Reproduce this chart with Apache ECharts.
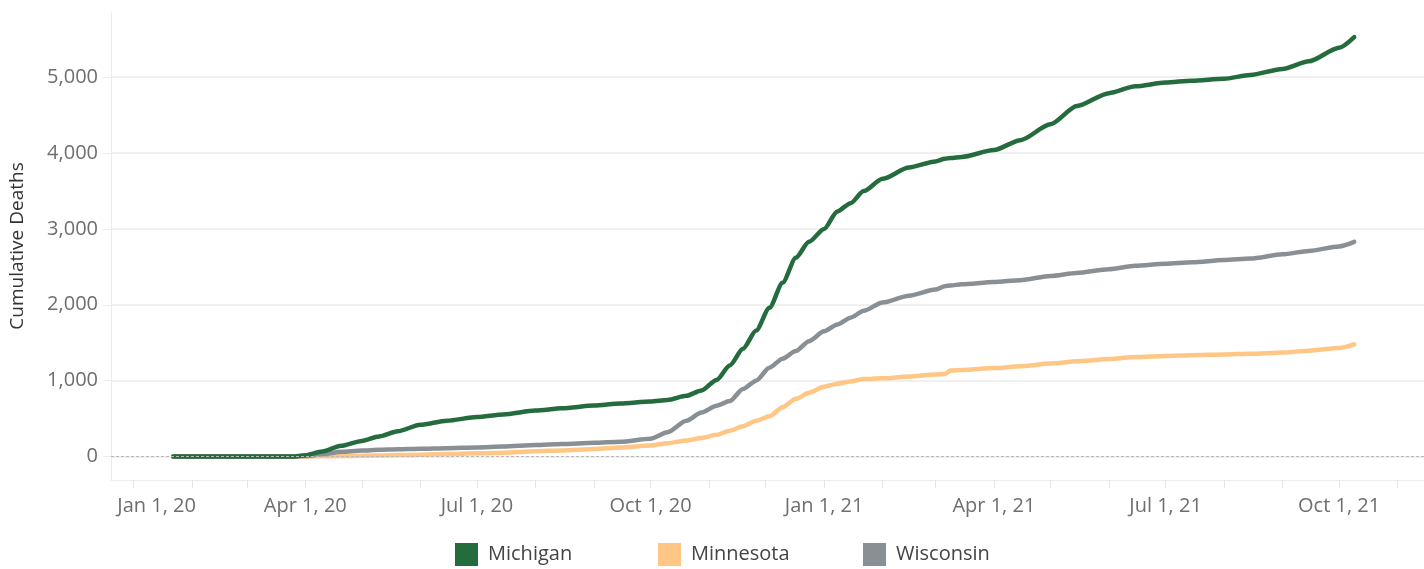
<!DOCTYPE html>
<html>
<head>
<meta charset="utf-8">
<script src="https://cdn.jsdelivr.net/npm/echarts@6/dist/echarts.min.js"></script>
<style>
  html, body { margin: 0; padding: 0; background: #fff; }
  #main { width: 1424px; height: 569px; }
</style>
</head>
<body>
<div id="main"></div>
<script>
// dates
var dates = [
  '2020-01-22', '2020-03-15', '2020-03-25', '2020-04-01', '2020-04-10', '2020-04-20',
  '2020-05-01', '2020-05-10', '2020-05-20', '2020-06-01', '2020-06-15', '2020-07-01',
  '2020-07-15', '2020-08-01', '2020-08-15', '2020-09-01', '2020-09-15', '2020-10-01',
  '2020-10-10', '2020-10-20', '2020-10-28', '2020-11-05', '2020-11-12', '2020-11-19',
  '2020-11-26', '2020-12-03', '2020-12-10', '2020-12-17', '2020-12-24', '2021-01-01',
  '2021-01-08', '2021-01-15', '2021-01-22', '2021-02-01', '2021-02-15', '2021-03-01',
  '2021-03-06', '2021-03-09', '2021-03-15', '2021-04-01', '2021-04-15', '2021-05-01',
  '2021-05-15', '2021-06-01', '2021-06-15', '2021-07-01', '2021-07-15', '2021-08-01',
  '2021-08-15', '2021-09-01', '2021-09-15', '2021-10-01', '2021-10-09'
];

var michigan = [
  0, 0, 0, 15, 65, 140,
  205, 263, 333, 418, 472, 520,
  555, 605, 635, 672, 697, 725,
  745, 800, 870, 1010, 1200, 1420,
  1660, 1960, 2290, 2620, 2830, 3000,
  3230, 3340, 3500, 3660, 3810, 3890,
  3925, 3935, 3950, 4040, 4170, 4380,
  4620, 4790, 4880, 4930, 4955, 4980,
  5030, 5110, 5210, 5390, 5530
];

var minnesota = [
  0, 0, 0, 0, 3, 6,
  10, 13, 18, 24, 33, 42,
  50, 70, 80, 100, 120, 145,
  176, 210, 245, 285, 340, 400,
  470, 530, 650, 760, 840, 920,
  960, 990, 1020, 1030, 1055, 1080,
  1089, 1134, 1140, 1165, 1190, 1225,
  1255, 1285, 1310, 1325, 1335, 1345,
  1355, 1370, 1395, 1430, 1478
];

var wisconsin = [
  0, 0, 0, 5, 30, 62,
  78, 88, 95, 102, 110, 120,
  132, 150, 165, 180, 195, 235,
  320, 470, 580, 670, 730, 890,
  1000, 1170, 1290, 1390, 1520, 1650,
  1740, 1830, 1920, 2030, 2120, 2200,
  2245, 2255, 2270, 2300, 2325, 2380,
  2420, 2470, 2515, 2540, 2560, 2590,
  2610, 2665, 2710, 2770, 2830
];

var yTicks = [0, 1000, 2000, 3000, 4000, 5000];
var xLabelDates = ['2020-01-01', '2020-04-01', '2020-07-01', '2020-10-01',
                   '2021-01-01', '2021-04-01', '2021-07-01', '2021-10-01'];
var xTickDates = [
  '2020-01-01', '2020-02-01', '2020-03-01', '2020-04-01', '2020-05-01', '2020-06-01',
  '2020-07-01', '2020-08-01', '2020-09-01', '2020-10-01', '2020-11-01', '2020-12-01',
  '2021-01-01', '2021-02-01', '2021-03-01', '2021-04-01', '2021-05-01', '2021-06-01',
  '2021-07-01', '2021-08-01', '2021-09-01', '2021-10-01', '2021-11-01'
];
var monthNames = ['Jan', 'Feb', 'Mar', 'Apr', 'May', 'Jun', 'Jul', 'Aug', 'Sep', 'Oct', 'Nov', 'Dec'];

function toTime(s) {
  var p = s.split('-');
  return new Date(+p[0], +p[1] - 1, +p[2]).getTime();
}
function pairs(vals) {
  return dates.map(function (d, i) { return [toTime(d), vals[i]]; });
}

var firstLabel = toTime(xLabelDates[0]);
var labelFont = 'Open Sans';

var chart = echarts.init(document.getElementById('main'));
var option = {
  animation: false,
  textStyle: { fontFamily: labelFont },
  grid: { left: 111, right: 0, top: 12, bottom: 89 },
  legend: [
    { data: ['Michigan'], left: 455, top: 543 },
    { data: ['Minnesota'], left: 658, top: 543 },
    { data: ['Wisconsin'], left: 863, top: 543 }
  ].map(function (l) {
    l.icon = 'rect';
    l.itemWidth = 23;
    l.itemHeight = 23;
    l.padding = 0;
    l.textStyle = { fontSize: 20, color: '#444', fontFamily: labelFont, padding: [0, 0, 0, 5] };
    return l;
  }),
  // dates kept as timestamps on a value axis
  xAxis: {
    type: 'value',
    min: toTime('2019-12-20'),
    max: toTime('2021-11-15'),
    axisLine: { show: true, onZero: false, lineStyle: { color: '#ececec', width: 1 } },
    axisTick: {
      show: true, length: 8, inside: false,
      lineStyle: { color: '#e3e3e3' },
      customValues: xTickDates.map(toTime)
    },
    splitLine: { show: false },
    axisLabel: {
      margin: 16,
      fontSize: 20,
      color: '#6e6e6e',
      fontFamily: labelFont,
      customValues: xLabelDates.map(toTime),
      formatter: function (v) {
        var d = new Date(v);
        var s = monthNames[d.getMonth()] + ' ' + d.getDate() + ', ' + String(d.getFullYear()).slice(2);
        if (v === firstLabel) return '{first|' + s + '}';
        return s;
      },
      rich: {
        first: { fontSize: 20, color: '#6e6e6e', fontFamily: labelFont, padding: [0, 0, 0, 46] }
      }
    }
  },
  yAxis: {
    type: 'value',
    min: -310,
    max: 5860,
    name: 'Cumulative Deaths',
    nameLocation: 'middle',
    nameGap: 84,
    nameTextStyle: { fontSize: 19, color: '#333', fontFamily: labelFont },
    axisLine: { show: true, lineStyle: { color: '#ececec', width: 1 } },
    axisTick: {
      show: true, length: 8,
      lineStyle: { color: '#ececec' },
      customValues: yTicks
    },
    axisLabel: {
      margin: 13,
      fontSize: 20,
      color: '#6e6e6e',
      fontFamily: labelFont,
      customValues: yTicks,
      formatter: function (v) { return v.toLocaleString('en-US'); }
    },
    splitLine: { show: true, lineStyle: { color: '#f0f0f0', width: 2 } }
  },
  series: [
    {
      name: 'Minnesota',
      type: 'line',
      data: pairs(minnesota),
      showSymbol: false,
      smooth: 0.25,
      smoothMonotone: 'x',
      itemStyle: { color: '#ffc685' },
      lineStyle: { color: '#ffc685', width: 4.5, cap: 'round' },
      markLine: {
        silent: true,
        symbol: 'none',
        label: { show: false },
        lineStyle: { color: '#b8b8b8', type: [3, 2], width: 1 },
        data: [{ yAxis: 0 }]
      }
    },
    {
      name: 'Wisconsin',
      type: 'line',
      data: pairs(wisconsin),
      showSymbol: false,
      smooth: 0.25,
      smoothMonotone: 'x',
      itemStyle: { color: '#889095' },
      lineStyle: { color: '#889095', width: 4.5, cap: 'round' }
    },
    {
      name: 'Michigan',
      type: 'line',
      data: pairs(michigan),
      showSymbol: false,
      smooth: 0.25,
      smoothMonotone: 'x',
      itemStyle: { color: '#246b3d' },
      lineStyle: { color: '#246b3d', width: 4.5, cap: 'round' }
    }
  ]
};
chart.setOption(option);
</script>
</body>
</html>
